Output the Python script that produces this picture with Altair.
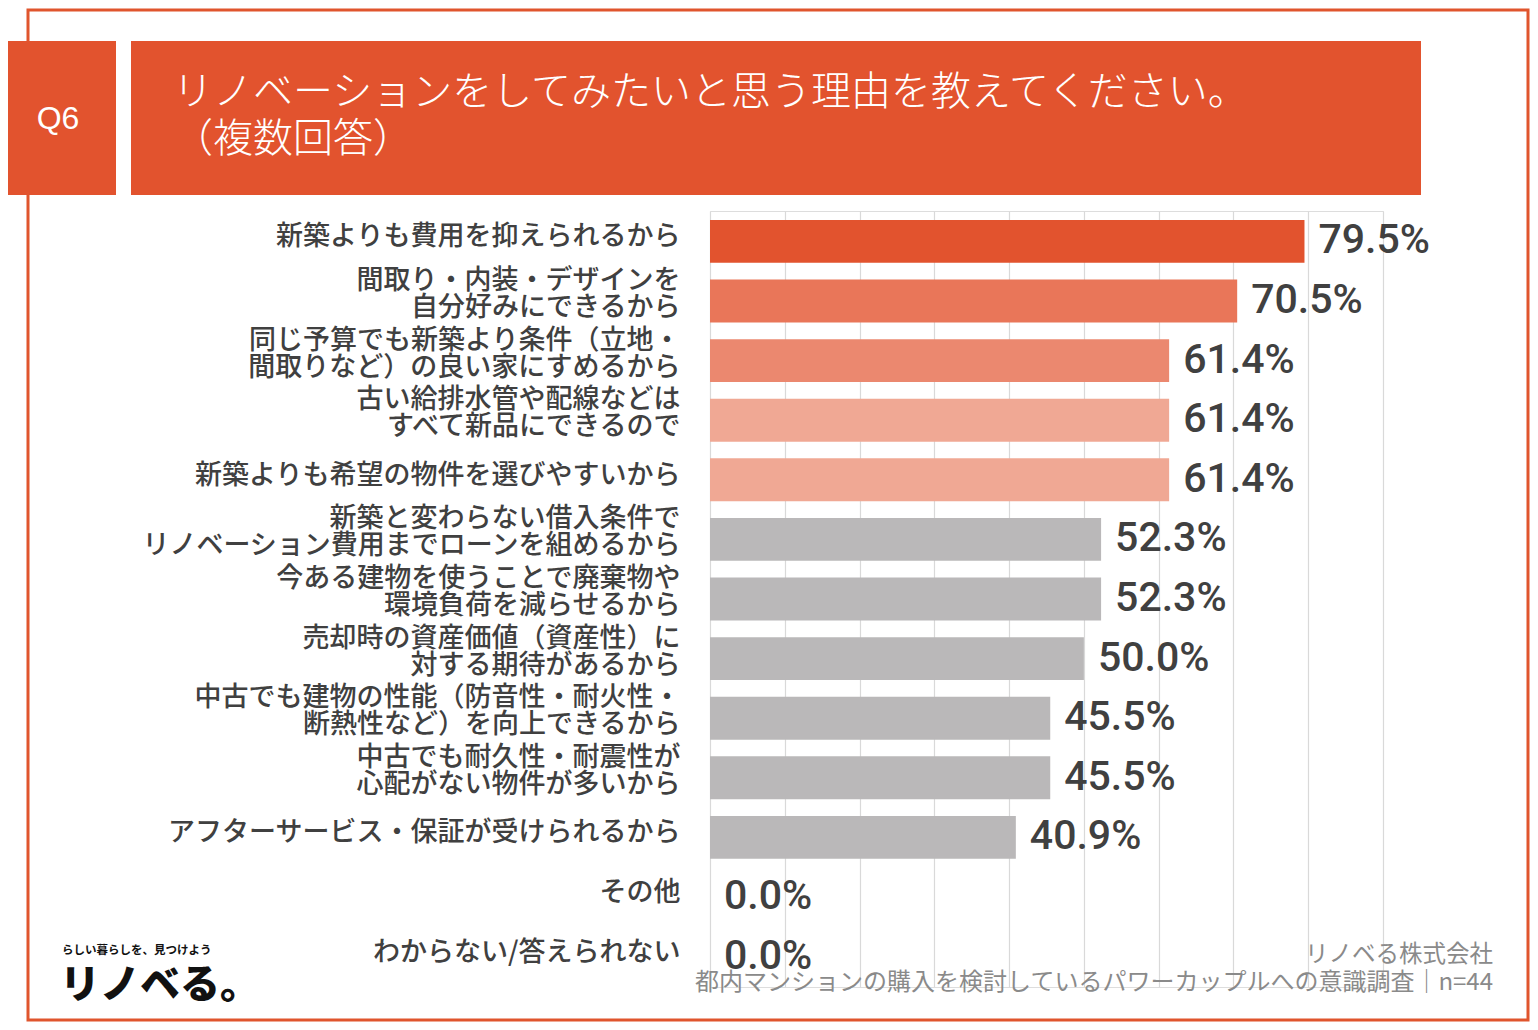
import altair as alt
import pandas as pd

# ---- data ----
categories = [
    "新築よりも費用を抑えられるから",
    "間取り・内装・デザインを\n自分好みにできるから",
    "同じ予算でも新築より条件（立地・\n間取りなど）の良い家にすめるから",
    "古い給排水管や配線などは\nすべて新品にできるので",
    "新築よりも希望の物件を選びやすいから",
    "新築と変わらない借入条件で\nリノベーション費用までローンを組めるから",
    "今ある建物を使うことで廃棄物や\n環境負荷を減らせるから",
    "売却時の資産価値（資産性）に\n対する期待があるから",
    "中古でも建物の性能（防音性・耐火性・\n断熱性など）を向上できるから",
    "中古でも耐久性・耐震性が\n心配がない物件が多いから",
    "アフターサービス・保証が受けられるから",
    "その他",
    "わからない/答えられない",
]
values = [79.5, 70.5, 61.4, 61.4, 61.4, 52.3, 52.3, 50.0, 45.5, 45.5, 40.9, 0.0, 0.0]
grid_ticks = [0, 10, 20, 30, 40, 50, 60, 70, 80, 90]

title_line1 = "リノベーションをしてみたいと思う理由を教えてください。"
title_line2 = "（複数回答）"
question_no = "Q6"
company = "リノベる株式会社"
source = "都内マンションの購入を検討しているパワーカップルへの意識調査｜n=44"
logo_tag = "らしい暮らしを、見つけよう"
logo_name = "リノベる。"

# ---- styles ----
ORANGE = "#E2532E"
bar_colors = ["#E2532E", "#E97659", "#EB886F", "#F0A894", "#F0A894",
              "#BAB8B9", "#BAB8B9", "#BAB8B9", "#BAB8B9", "#BAB8B9",
              "#BAB8B9", "#BAB8B9", "#BAB8B9"]
JP = "Noto Sans CJK JP"
TXT = "#404040"

df = pd.DataFrame({"category": categories, "value": values})

W, H = 673, 776

base = alt.Chart(df)

bars = base.mark_bar().encode(
    y=alt.Y("category:N", sort=categories, title=None,
            scale=alt.Scale(paddingInner=0.28, paddingOuter=0.15),
            axis=alt.Axis(labelExpr="split(datum.label, '\\n')",
                          labelFont=JP, labelFontSize=27, labelFontWeight=500,
                          labelColor=TXT, labelLineHeight=27, labelAlign="right",
                          labelPadding=30,
                          labelOffset={"condition": {"test": "indexof(datum.label, '\\n') >= 0",
                                                     "value": -20},
                                       "value": -4},
                          labelLimit=900,
                          ticks=False, domain=False, grid=False)),
    x=alt.X("value:Q", title=None,
            scale=alt.Scale(domain=[0, 90], nice=False),
            axis=alt.Axis(values=grid_ticks, labels=False, ticks=False,
                          domain=False, grid=True, gridColor="#D9D9D9",
                          gridWidth=1.2)),
    color=alt.Color("category:N", scale=alt.Scale(domain=categories, range=bar_colors),
                    legend=None),
)

labels = base.transform_calculate(
    lab="format(datum.value, '.1f') + '%'"
).mark_text(align="left", baseline="middle", dx=14, font="Roboto",
            fontSize=41, fontWeight=500, color=TXT).encode(
    y=alt.Y("category:N", sort=categories),
    x=alt.X("value:Q"),
    text="lab:N",
)

one = alt.Data(values=[{"k": 1}])

frame = alt.Chart(one).mark_rect(fillOpacity=0, stroke="#E0552D", strokeWidth=3).encode(
    x=alt.value(-682), x2=alt.value(818), y=alt.value(-201), y2=alt.value(809))

qbox = alt.Chart(one).mark_rect(color=ORANGE).encode(
    x=alt.value(-702), x2=alt.value(-594), y=alt.value(-170), y2=alt.value(-16))
tbox = alt.Chart(one).mark_rect(color=ORANGE).encode(
    x=alt.value(-579), x2=alt.value(711), y=alt.value(-170), y2=alt.value(-16))

qtext = alt.Chart(one).mark_text(align="center", baseline="middle", font="Liberation Sans",
                                 fontSize=32, color="white").encode(
    x=alt.value(-652), y=alt.value(-92), text=alt.value(question_no))
t1 = alt.Chart(one).mark_text(align="left", baseline="middle", font=JP,
                              fontSize=40, fontWeight=300, color="white").encode(
    x=alt.value(-537), y=alt.value(-118), text=alt.value(title_line1))
t2 = alt.Chart(one).mark_text(align="left", baseline="middle", font=JP,
                              fontSize=40, fontWeight=300, color="white").encode(
    x=alt.value(-537), y=alt.value(-71), text=alt.value(title_line2))

c1 = alt.Chart(one).mark_text(align="right", baseline="middle", font=JP,
                              fontSize=23.5, color="#8A8A8A").encode(
    x=alt.value(783), y=alt.value(744), text=alt.value(company))
c2 = alt.Chart(one).mark_text(align="right", baseline="middle", font=JP,
                              fontSize=24, color="#8A8A8A").encode(
    x=alt.value(783), y=alt.value(772), text=alt.value(source))

lg1 = alt.Chart(one).mark_text(align="left", baseline="middle", font=JP,
                               fontSize=11.5, fontWeight="bold", color="#111111").encode(
    x=alt.value(-648), y=alt.value(740), text=alt.value(logo_tag))
lg2 = alt.Chart(one).mark_text(align="left", baseline="middle", font=JP,
                               fontSize=40, fontWeight=900, color="#111111").encode(
    x=alt.value(-650), y=alt.value(775), text=alt.value(logo_name))

chart = alt.layer(frame, qbox, tbox, qtext, t1, t2, bars, labels, c1, c2, lg1, lg2).properties(
    width=W, height=H,
    padding={"left": 702, "top": 203, "right": 147, "bottom": 35},
    autosize=alt.AutoSizeParams(type="none"),
).configure_view(stroke=None).configure(background="white")

chart.save("out.html", embed_options={"renderer": "svg", "actions": False})
